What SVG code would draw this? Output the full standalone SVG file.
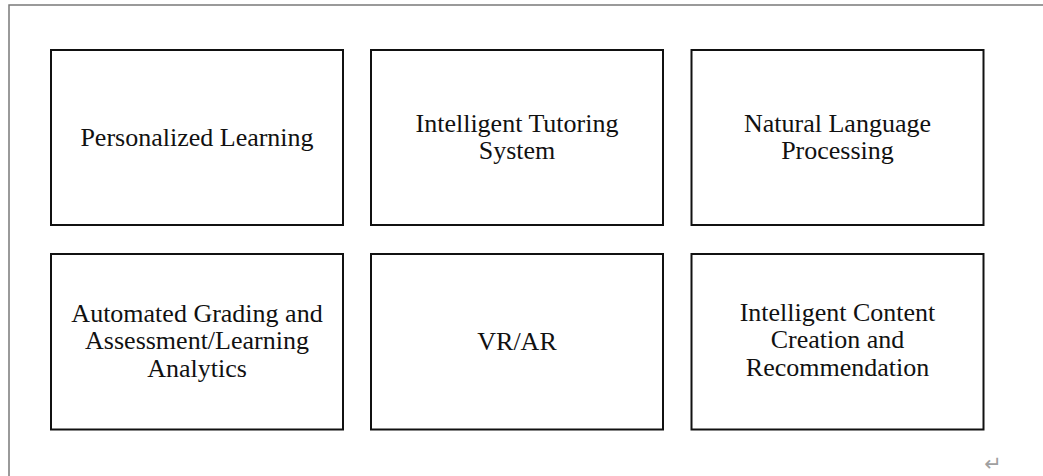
<svg xmlns="http://www.w3.org/2000/svg" width="1043" height="476" viewBox="0 0 1043 476">
  <style>
    .box { fill: #ffffff; stroke: #111111; stroke-width: 2; }
    .label { font-family: "Liberation Serif", "Times New Roman", serif; font-size: 26px; fill: #111111; text-anchor: middle; }
    .frame { fill: none; stroke: #7a7a7a; stroke-width: 1.5; }
    .mark { font-family: "DejaVu Sans", sans-serif; font-size: 21px; fill: #a0a0a0; text-anchor: middle; }
  </style>
  <rect x="0" y="0" width="1043" height="476" fill="#ffffff"/>
  <!-- page frame -->
  <polyline class="frame" points="9,476 9,5 1043,5"/>

  <g id="connectors"></g>

  <g id="personalized-learning">
    <rect class="box" x="51" y="50" width="292" height="175"/>
    <text class="label" x="197" y="146">Personalized Learning</text>
  </g>
  <g id="intelligent-tutoring-system">
    <rect class="box" x="371" y="50" width="292" height="175"/>
    <text class="label" x="517" y="131.7">Intelligent Tutoring</text>
    <text class="label" x="517" y="159.4">System</text>
  </g>
  <g id="natural-language-processing">
    <rect class="box" x="691.5" y="50" width="292" height="175"/>
    <text class="label" x="837.5" y="131.7">Natural Language</text>
    <text class="label" x="837.5" y="159.4">Processing</text>
  </g>
  <g id="automated-grading">
    <rect class="box" x="51" y="254" width="292" height="175.5"/>
    <text class="label" x="197" y="321.7">Automated Grading and</text>
    <text class="label" x="197" y="349.4">Assessment/Learning</text>
    <text class="label" x="197" y="377.1">Analytics</text>
  </g>
  <g id="vr-ar">
    <rect class="box" x="371" y="254" width="292" height="175.5"/>
    <text class="label" x="517" y="350">VR/AR</text>
  </g>
  <g id="intelligent-content">
    <rect class="box" x="691.5" y="254" width="292" height="175.5"/>
    <text class="label" x="837.5" y="320.8">Intelligent Content</text>
    <text class="label" x="837.5" y="348.4">Creation and</text>
    <text class="label" x="837.5" y="376">Recommendation</text>
  </g>

  <!-- paragraph mark -->
  <text class="mark" x="993" y="470.5">↵</text>
</svg>
